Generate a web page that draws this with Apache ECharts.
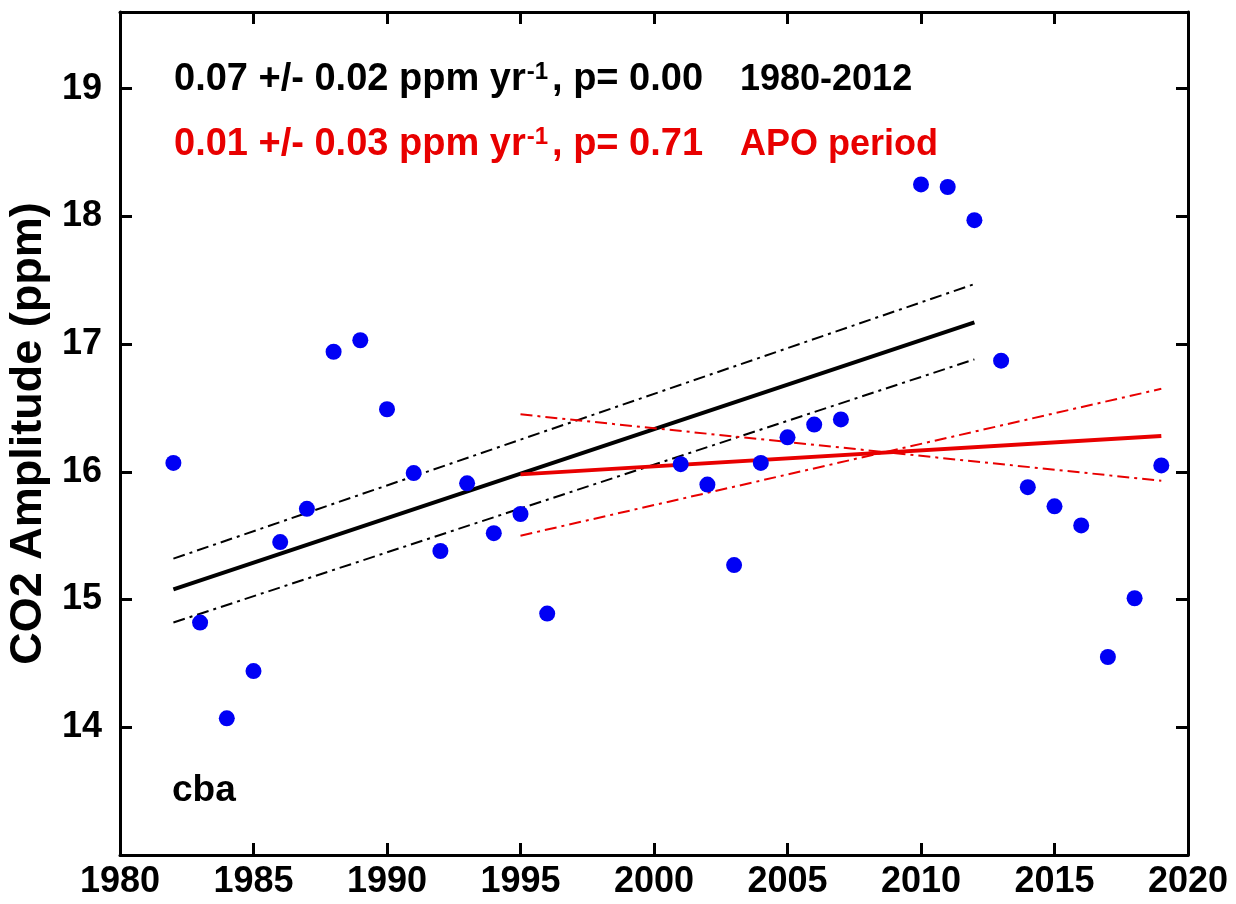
<!DOCTYPE html>
<html>
<head>
<meta charset="utf-8">
<script src="https://cdn.jsdelivr.net/npm/echarts@6/dist/echarts.min.js"></script>
<style>
  html, body { margin: 0; padding: 0; background: #fff; }
  #main { width: 1236px; height: 904px; }
</style>
</head>
<body>
<div id="main"></div>
<script>
// cba station, seasonal CO2 amplitude per year
var years = [1982, 1983, 1984, 1985, 1986, 1987, 1988, 1989, 1990, 1991, 1992, 1993, 1994, 1995, 1996,
  2001, 2002, 2003, 2004, 2005, 2006, 2007, 2010, 2011, 2012, 2013, 2014, 2015, 2016, 2017, 2018, 2019];
var amplitude = [16.07, 14.82, 14.07, 14.44, 15.45, 15.71, 16.94, 17.03, 16.49, 15.99, 15.38, 15.91, 15.52, 15.67, 14.89,
  16.06, 15.90, 15.27, 16.07, 16.27, 16.37, 16.41, 18.25, 18.23, 17.97, 16.87, 15.88, 15.73, 15.58, 14.55, 15.01, 16.05];

// trend 1980-2012 (end points) with its confidence bounds
var trendYearsAll = [1982, 2012];
var trendAll = [15.08, 17.17];
var trendAllHi = [15.32, 17.47];
var trendAllLo = [14.82, 16.88];

// trend over the APO period
var trendYearsApo = [1995, 2019];
var trendApo = [15.98, 16.28];
var trendApoHi = [16.45, 15.93];
var trendApoLo = [15.50, 16.65];

var xTicks = [1980, 1985, 1990, 1995, 2000, 2005, 2010, 2015, 2020];
var yTicks = [14, 15, 16, 17, 18, 19];

var FONT = "'Liberation Sans', Arial, Helvetica, sans-serif";
var RED = '#e80000';

function pairs(xs, ys) {
  return xs.map(function (x, i) { return [x, ys[i]]; });
}

var chart = echarts.init(document.getElementById('main'));

var frameAxis = {
  axisLine: { show: true, onZero: false, lineStyle: { color: '#000', width: 3 } },
  axisTick: { show: true, inside: true, length: 12, lineStyle: { color: '#000', width: 3 } },
  splitLine: { show: false }
};

function fitLine(xs, ys, color, width, type) {
  return {
    type: 'line',
    data: pairs(xs, ys),
    symbol: 'none',
    silent: true,
    z: 3,
    lineStyle: { color: color, width: width, type: type }
  };
}

function noteRich(color) {
  return {
    m: { fontFamily: FONT, fontWeight: 'bold', fontSize: 38, color: color, lineHeight: 40 },
    s: { fontFamily: FONT, fontWeight: 'bold', fontSize: 24, color: color, verticalAlign: 'top', lineHeight: 40, padding: [0, 4, 0, 1] }
  };
}

var dashDot = [12, 5, 3, 5];

chart.setOption({
  backgroundColor: '#fff',
  animation: false,
  textStyle: { fontFamily: FONT },
  grid: { left: 120, right: 48, top: 12, bottom: 49, outerBoundsMode: 'none' },
  title: [
    {
      left: 174, top: 60, padding: 0,
      text: '{m|0.07 +/- 0.02 ppm yr}{s|-1}{m|, p= 0.00}',
      textStyle: { rich: noteRich('#000') }
    },
    {
      left: 740, top: 60, padding: 0,
      text: '1980-2012',
      textStyle: { fontFamily: FONT, fontWeight: 'bold', fontSize: 36, color: '#000', lineHeight: 40 }
    },
    {
      left: 174, top: 125, padding: 0,
      text: '{m|0.01 +/- 0.03 ppm yr}{s|-1}{m|, p= 0.71}',
      textStyle: { rich: noteRich(RED) }
    },
    {
      left: 740, top: 125, padding: 0,
      text: 'APO period',
      textStyle: { fontFamily: FONT, fontWeight: 'bold', fontSize: 36, color: RED, lineHeight: 40 }
    },
    {
      left: 172, top: 771, padding: 0,
      text: 'cba',
      textStyle: { fontFamily: FONT, fontWeight: 'bold', fontSize: 37, color: '#000', lineHeight: 40 }
    }
  ],
  xAxis: [
    Object.assign({
      type: 'value', position: 'bottom', min: 1980, max: 2020, interval: 5,
      axisLabel: {
        show: true, margin: 9, color: '#000', fontFamily: FONT, fontWeight: 'bold', fontSize: 36,
        formatter: function (v) { return xTicks.indexOf(v) >= 0 ? String(v) : ''; }
      }
    }, frameAxis),
    Object.assign({
      type: 'value', position: 'top', min: 1980, max: 2020, interval: 5,
      axisLabel: { show: false }
    }, frameAxis)
  ],
  yAxis: [
    Object.assign({
      type: 'value', position: 'left', min: 13, max: 19.6, interval: 1,
      name: 'CO2 Amplitude (ppm)', nameLocation: 'middle', nameGap: 68,
      nameTextStyle: { color: '#000', fontFamily: FONT, fontWeight: 'bold', fontSize: 45 },
      axisLabel: {
        show: true, margin: 18, color: '#000', fontFamily: FONT, fontWeight: 'bold', fontSize: 36,
        formatter: function (v) { return yTicks.indexOf(v) >= 0 ? String(v) : ''; }
      }
    }, frameAxis),
    Object.assign({
      type: 'value', position: 'right', min: 13, max: 19.6, interval: 1,
      axisLabel: { show: false }
    }, frameAxis)
  ],
  series: [
    {
      type: 'scatter',
      data: pairs(years, amplitude),
      symbol: 'circle',
      symbolSize: 16,
      z: 4,
      itemStyle: { color: '#0000f5', opacity: 1 }
    },
    fitLine(trendYearsAll, trendAll, '#000', 4, 'solid'),
    fitLine(trendYearsAll, trendAllHi, '#000', 2, dashDot),
    fitLine(trendYearsAll, trendAllLo, '#000', 2, dashDot),
    fitLine(trendYearsApo, trendApo, RED, 4, 'solid'),
    fitLine(trendYearsApo, trendApoHi, RED, 2, dashDot),
    fitLine(trendYearsApo, trendApoLo, RED, 2, dashDot)
  ]
});
</script>
</body>
</html>
